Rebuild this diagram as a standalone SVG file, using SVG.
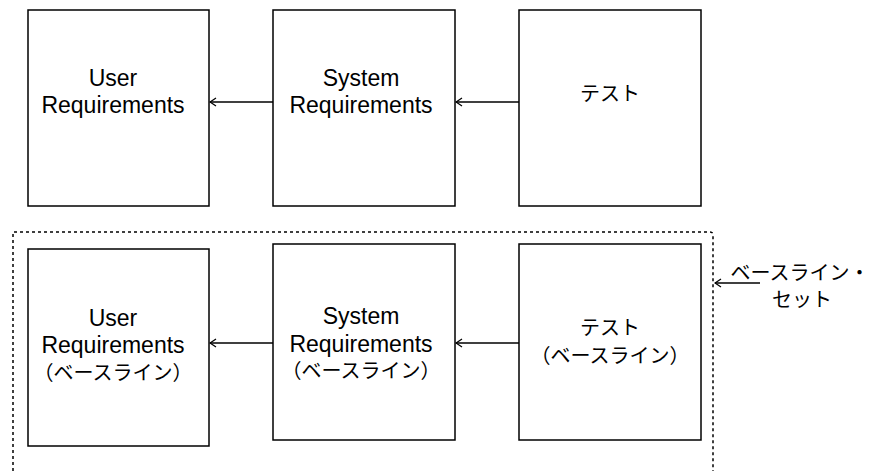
<svg xmlns="http://www.w3.org/2000/svg" width="872" height="471" viewBox="0 0 872 471">
<style>
.box{fill:#fff;stroke:#000;stroke-width:1.5}
.lat{font-family:"Liberation Sans","Noto Sans CJK JP",sans-serif;font-size:23px;fill:#000;text-anchor:middle}
.jp{font-family:"Noto Sans CJK JP","Liberation Sans",sans-serif;font-size:20px;fill:#000;text-anchor:middle}
.edge{fill:none;stroke:#000;stroke-width:1.3}
.dot{fill:none;stroke:#000;stroke-width:1.5;stroke-dasharray:3 3}
</style>
<defs>
<marker id="arr" viewBox="0 0 10 10" refX="9" refY="5" markerWidth="10" markerHeight="10" markerUnits="userSpaceOnUse" orient="auto">
<path d="M3 1 L9 5 L3 9" fill="none" stroke="#000" stroke-width="1.3"/>
</marker>
</defs>
<g id="baseline-set">
<path class="dot" d="M13 471 V232 H710 Q713 232 713 235 V471"/>
</g>
<g id="user-req">
<rect class="box" x="28" y="10" width="181" height="196"/>
<text class="lat" x="113" y="86">User</text>
<text class="lat" x="113" y="113">Requirements</text>
</g>
<g id="sys-req">
<rect class="box" x="273" y="10" width="182" height="196"/>
<text class="lat" x="361" y="86">System</text>
<text class="lat" x="361" y="113">Requirements</text>
</g>
<g id="test">
<rect class="box" x="519" y="10" width="182" height="196"/>
<text class="jp" x="610" y="101">テスト</text>
</g>
<g id="user-req-bl">
<rect class="box" x="28" y="249" width="181" height="197"/>
<text class="lat" x="113" y="326">User</text>
<text class="lat" x="113" y="353">Requirements</text>
<text class="jp" x="113" y="380">（ベースライン）</text>
</g>
<g id="sys-req-bl">
<rect class="box" x="273" y="244" width="182" height="196"/>
<text class="lat" x="361" y="324">System</text>
<text class="lat" x="361" y="352">Requirements</text>
<text class="jp" x="361" y="378">（ベースライン）</text>
</g>
<g id="test-bl">
<rect class="box" x="519" y="244" width="182" height="196"/>
<text class="jp" x="610" y="335">テスト</text>
<text class="jp" x="610" y="363">（ベースライン）</text>
</g>
<g id="label-baseline-set">
<text class="jp" x="800" y="280">ベースライン・</text>
<text class="jp" x="802" y="307">セット</text>
</g>
<g id="connectors">
<path class="edge" d="M273 102 H210" marker-end="url(#arr)"/>
<path class="edge" d="M519 102 H456" marker-end="url(#arr)"/>
<path class="edge" d="M273 343 H210" marker-end="url(#arr)"/>
<path class="edge" d="M519 343 H456" marker-end="url(#arr)"/>
<path class="edge" d="M760 283 H715" marker-end="url(#arr)"/>
</g>
</svg>
